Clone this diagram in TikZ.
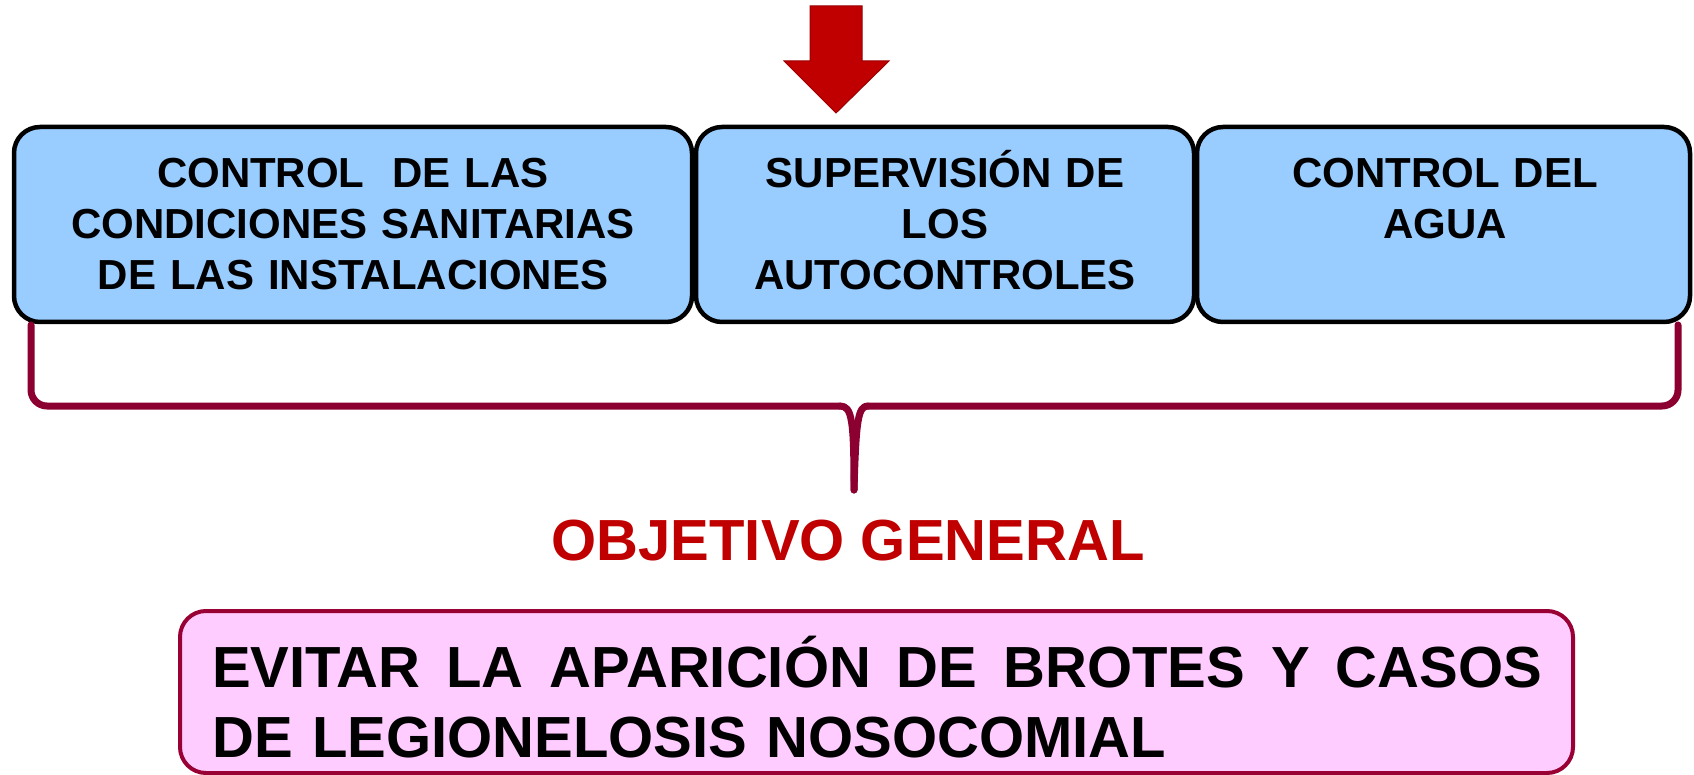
\documentclass[tikz,border=0pt]{standalone}
\usepackage{fontspec}
\setmainfont{Liberation Sans}
\definecolor{boxblue}{RGB}{153,204,255}
\definecolor{boxpink}{RGB}{255,204,255}
\definecolor{bracered}{RGB}{139,0,48}
\definecolor{pinkborder}{RGB}{153,0,51}
\definecolor{arrowred}{RGB}{192,0,0}
\definecolor{titlered}{RGB}{192,0,0}
\tikzset{
  bluebox/.style={draw=black, line width=4.5pt, fill=boxblue, rounded corners=26pt},
  boxtext/.style={anchor=base, inner sep=0pt, align=center, font=\fontsize{42}{51}\selectfont\bfseries},
  bracestyle/.style={draw=bracered, line width=7pt, line cap=round, line join=round},
}
\begin{document}
\begin{tikzpicture}[x=1pt,y=-1pt]
\useasboundingbox (0,0) rectangle (1694,775);
% arrow
\filldraw[fill=arrowred, draw=arrowred!80!black, line width=1pt]
  (810,6) -- (862,6) -- (862,61) -- (889,61) -- (836,113) -- (784,61) -- (810,61) -- cycle;
% boxes
\draw[bluebox] (14,127) rectangle (692,322);
\draw[bluebox] (696,127) rectangle (1194,322);
\draw[bluebox] (1197,127) rectangle (1690,322);
\node[boxtext, text width=670pt] (t1) at (353,188) {CONTROL\ \ DE LAS\\CONDICIONES SANITARIAS\\DE LAS INSTALACIONES};
\node[boxtext, text width=490pt] (t2) at (945,188) {SUPERVISIÓN DE\\LOS\\AUTOCONTROLES};
\node[boxtext, text width=480pt] (t3) at (1445,188) {CONTROL DEL\\AGUA};
% brace
\coordinate (bl) at (31,325);
\coordinate (br) at (1678,325);
\coordinate (bm) at (854,490);
\draw[bracestyle, rounded corners=16pt] (bl) -- (31,406) -- (840,406);
\draw[bracestyle] (840,406) .. controls (852,406) and (854,420) .. (bm);
\draw[bracestyle] (bm) .. controls (856,420) and (858,406) .. (868,406);
\draw[bracestyle, rounded corners=16pt] (868,406) -- (1678,406) -- (br);
% title
\node[anchor=base, inner sep=0pt, text=titlered, font=\fontsize{58}{70}\selectfont\bfseries] (obj) at (848,560) {OBJETIVO GENERAL};
% bottom box
\draw[draw=pinkborder, line width=4pt, fill=boxpink, rounded corners=26pt] (180,611) rectangle (1573,773);
\node[anchor=base west, inner sep=0pt, text width=1330pt, align=left, font=\fontsize{58}{70}\selectfont\bfseries] (goal) at (212,687)
  {\hbox to 1330pt{EVITAR\hfil LA\hfil APARICIÓN\hfil DE\hfil BROTES\hfil Y\hfil CASOS}\\DE LEGIONELOSIS NOSOCOMIAL};
\end{tikzpicture}
\end{document}
